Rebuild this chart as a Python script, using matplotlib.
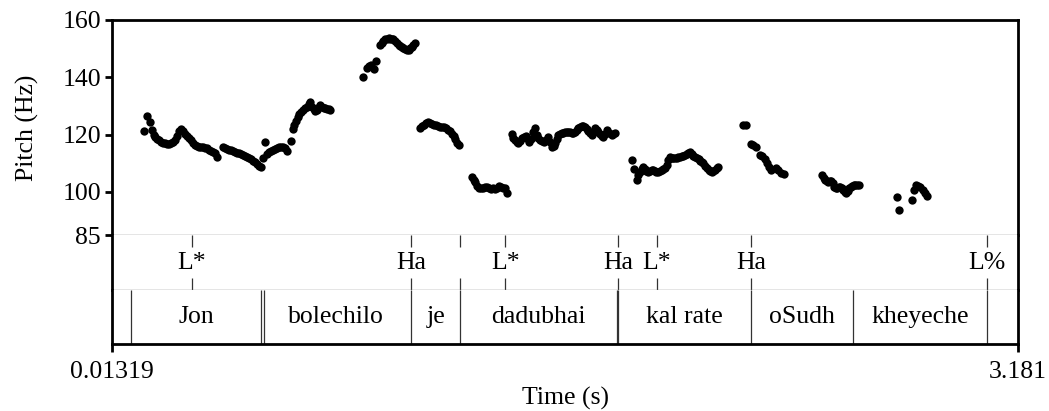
"""Praat-style pitch track with tone and word tiers."""
import matplotlib
import matplotlib.pyplot as plt

matplotlib.use("Agg")

plt.rcParams["font.family"] = ["Liberation Serif", "DejaVu Serif"]

T_START = 0.01319
T_END = 3.181

# pitch points (s, Hz)
times = [
    0.124, 0.135, 0.145, 0.152, 0.159, 0.164, 0.171, 0.178, 0.185, 0.192,
    0.199, 0.206, 0.213, 0.220, 0.227, 0.234, 0.241, 0.248, 0.254, 0.261,
    0.268, 0.275, 0.282, 0.289, 0.296, 0.303, 0.310, 0.317, 0.324, 0.331,
    0.338, 0.345, 0.352, 0.359, 0.366, 0.373, 0.381, 0.400, 0.407, 0.414,
    0.421, 0.428, 0.435, 0.442, 0.449, 0.456, 0.463, 0.470, 0.477, 0.484,
    0.491, 0.498, 0.505, 0.512, 0.519, 0.526, 0.533, 0.541, 0.548, 0.554,
    0.561, 0.568, 0.575, 0.582, 0.589, 0.596, 0.603, 0.610, 0.617, 0.624,
    0.638, 0.645, 0.650, 0.656, 0.662, 0.668, 0.674, 0.681, 0.688, 0.695,
    0.701, 0.706, 0.712, 0.718, 0.724, 0.730, 0.736, 0.741, 0.747, 0.753,
    0.759, 0.765, 0.771, 0.777,
    0.892, 0.904, 0.912, 0.918, 0.929, 0.935, 0.950, 0.956, 0.962, 0.968,
    0.974, 0.980, 0.986, 0.992, 0.997, 1.003, 1.009, 1.015, 1.021, 1.026,
    1.032, 1.038, 1.044, 1.050, 1.055, 1.061, 1.067, 1.073,
    1.090, 1.097, 1.104, 1.111, 1.118, 1.125, 1.132, 1.139, 1.146, 1.153,
    1.160, 1.167, 1.174, 1.181, 1.188, 1.195, 1.202, 1.208, 1.213, 1.220,
    1.228,
    1.271, 1.278, 1.283, 1.290, 1.297, 1.304, 1.311, 1.317, 1.324, 1.331,
    1.338, 1.345, 1.352, 1.359, 1.366, 1.373, 1.380, 1.387, 1.394,
    1.411, 1.416, 1.422, 1.428, 1.434, 1.440, 1.446, 1.453, 1.461, 1.467,
    1.472, 1.478, 1.485, 1.492, 1.498, 1.504, 1.510, 1.517, 1.523, 1.530,
    1.539, 1.545, 1.551, 1.557, 1.562, 1.568, 1.574, 1.580, 1.586, 1.591,
    1.597, 1.603, 1.609, 1.615, 1.620, 1.626, 1.632, 1.638, 1.644, 1.650,
    1.656, 1.661, 1.667, 1.673, 1.679, 1.685, 1.690, 1.696, 1.702, 1.708,
    1.714, 1.720, 1.726, 1.731, 1.737, 1.745, 1.752, 1.760, 1.766, 1.772,
    1.830, 1.840, 1.848, 1.853, 1.859, 1.865, 1.871, 1.877, 1.882, 1.888,
    1.894, 1.900, 1.906, 1.912, 1.917, 1.923, 1.929, 1.935, 1.941, 1.947,
    1.953, 1.958, 1.964, 1.970, 1.976, 1.982, 1.988, 1.993, 1.999, 2.005,
    2.011, 2.017, 2.023, 2.028, 2.034, 2.040, 2.046, 2.052, 2.058, 2.064,
    2.070, 2.076, 2.081, 2.087, 2.093, 2.099, 2.105, 2.110, 2.116, 2.122,
    2.128, 2.133,
    2.220, 2.230, 2.248, 2.255, 2.265, 2.280, 2.286, 2.296, 2.305, 2.312,
    2.318, 2.335, 2.342, 2.352, 2.362,
    2.496, 2.502, 2.506, 2.512, 2.517, 2.522, 2.527, 2.533, 2.538, 2.543,
    2.548, 2.554, 2.559, 2.564, 2.569, 2.575, 2.580, 2.585, 2.590, 2.596,
    2.601, 2.606, 2.611, 2.617, 2.624,
    2.757, 2.766, 2.809, 2.818, 2.825, 2.832, 2.840, 2.848, 2.855, 2.862,
]
pitch = [
    121.4, 126.5, 124.5, 121.6, 120.0, 119.3, 118.5, 118.0, 117.5, 117.2,
    117.0, 116.8, 116.7, 117.0, 117.6, 118.1, 119.5, 121.3, 121.9, 121.4,
    120.3, 119.5, 118.8, 118.0, 117.2, 116.5, 116.0, 115.8, 115.7, 115.6,
    115.4, 115.2, 114.8, 114.4, 114.0, 113.5, 112.3, 115.8, 115.5, 114.9,
    114.6, 114.5, 114.3, 114.0, 113.7, 113.5, 113.3, 113.0, 112.7, 112.3,
    111.8, 111.4, 110.9, 110.3, 109.7, 109.1, 108.6, 111.8, 117.3, 113.2,
    113.9, 114.3, 114.6, 115.0, 115.4, 115.6, 115.8, 115.6, 115.2, 114.2,
    117.9, 122.0, 123.4, 124.8, 126.0, 127.2, 128.0, 128.6, 129.2, 129.8,
    130.6, 131.5, 129.8, 129.0, 128.3, 128.5, 129.5, 130.3, 129.8, 129.4,
    129.2, 129.0, 128.8, 128.6,
    140.2, 143.1, 144.0, 144.3, 142.8, 145.6, 151.3, 152.0, 152.8, 153.2,
    153.4, 153.6, 153.5, 153.3, 153.2, 152.6, 151.9, 151.3, 150.9, 150.5,
    150.2, 149.8, 149.5, 149.7, 150.2, 150.7, 151.3, 151.9,
    122.2, 123.0, 123.5, 124.0, 124.3, 124.0, 123.8, 123.5, 123.2, 123.0,
    122.8, 122.8, 122.8, 122.2, 121.8, 121.4, 120.4, 119.5, 118.5, 117.0,
    116.4,
    105.3, 104.2, 103.4, 102.0, 101.5, 101.3, 101.5, 101.8, 101.6, 101.3,
    101.2, 101.3, 100.9, 101.4, 102.0, 101.8, 101.5, 101.4, 99.5,
    120.2, 119.0, 118.1, 117.4, 117.0, 117.8, 118.7, 119.3, 119.5, 118.5,
    117.5, 118.5, 121.0, 122.2, 119.9, 119.0, 118.1, 117.8, 117.5, 118.2,
    119.3, 117.5, 115.8, 116.2, 117.0, 118.5, 119.9, 120.3, 120.5, 120.5,
    120.8, 121.0, 121.1, 120.8, 120.5, 120.5, 121.0, 121.6, 122.2, 122.6,
    122.9, 123.0, 122.5, 121.9, 121.4, 120.5, 119.9, 121.0, 122.2, 121.5,
    120.8, 120.2, 119.6, 119.3, 120.3, 121.6, 120.6, 119.9, 120.2, 120.5,
    111.2, 107.9, 104.2, 106.0, 107.1, 108.0, 108.8, 108.0, 107.4, 107.1,
    107.4, 107.6, 107.7, 107.4, 107.1, 107.1, 107.4, 107.7, 107.9, 108.5,
    109.4, 111.0, 112.3, 112.0, 111.9, 111.8, 112.0, 112.2, 112.3, 112.5,
    112.7, 112.9, 113.2, 113.6, 114.1, 113.2, 112.7, 112.3, 111.8, 111.4,
    110.8, 110.3, 110.0, 109.0, 108.3, 107.6, 107.2, 107.1, 107.3, 107.6,
    108.2, 108.8,
    123.3, 123.4, 116.8, 116.4, 115.8, 113.0, 112.4, 111.4, 110.0, 108.8,
    107.7, 108.3, 107.6, 106.5, 106.3,
    105.9, 105.0, 104.2, 103.8, 103.6, 103.8, 104.0, 103.0, 101.8, 101.5,
    101.3, 101.6, 101.8, 101.3, 100.7, 100.0, 99.5, 100.5, 101.3, 101.8,
    102.2, 102.4, 102.4, 102.4, 102.4,
    98.4, 93.7, 97.2, 100.7, 102.4, 102.0, 101.6, 100.8, 99.8, 98.6,
]

# tone tier (point tier)
tone_times = [0.292, 1.060, 1.231, 1.389, 1.784, 1.918, 2.248, 3.071]
tone_labels = ["L*", "Ha", "", "L*", "Ha", "L*", "Ha", "L%"]

# word tier (interval tier)
word_bounds = [0.0813, 0.535, 0.543, 1.060, 1.231, 1.778, 1.784, 2.248, 2.605, 3.071]
word_mids = [0.308, 0.797, 1.145, 1.505, 2.016, 2.426, 2.838]
word_labels = ["Jon", "bolechilo", "je", "dadubhai", "kal rate", "oSudh", "kheyeche"]

W, H = 1049, 411
FS = 18.5
FRAME_LW = 2.0
GRID = "#7f7f7f"

fig = plt.figure(figsize=(W / 100, H / 100), dpi=100)
left, right = 112 / W, 1018 / W
width = right - left


def px_axes(top, bottom):
    return fig.add_axes([left, 1 - bottom / H, width, (bottom - top) / H])


ax = px_axes(20, 235)
ax_tone = px_axes(235, 290)
ax_word = px_axes(290, 344)

for a in (ax, ax_tone, ax_word):
    a.set_xlim(T_START, T_END)
    for side in ("left", "right"):
        a.spines[side].set_linewidth(FRAME_LW)
        a.spines[side].set_color("black")

# pitch panel
ax.plot(times, pitch, "o", color="black", markersize=6.0, markeredgewidth=0)
ax.set_ylim(85, 160)
ax.set_yticks([85, 100, 120, 140, 160])
ax.tick_params(axis="y", length=5, width=FRAME_LW, labelsize=FS, pad=3)
ax.set_xticks([])
ax.spines["top"].set_linewidth(FRAME_LW)
ax.spines["bottom"].set_linewidth(1.0)
ax.spines["bottom"].set_color(GRID)
ax.set_ylabel("Pitch (Hz)", fontsize=FS, labelpad=17)

# tone tier
ax_tone.set_ylim(0, 1)
ax_tone.set_xticks([])
ax_tone.set_yticks([])
ax_tone.spines["top"].set_visible(False)
ax_tone.spines["bottom"].set_linewidth(1.0)
ax_tone.spines["bottom"].set_color(GRID)
for t, lab in zip(tone_times, tone_labels):
    ax_tone.vlines(t, 0.78, 1.0, color="#333333", linewidth=0.9)
    ax_tone.vlines(t, 0.0, 0.22, color="#333333", linewidth=0.9)
    ax_tone.text(t, 0.5, lab, ha="center", va="center", fontsize=FS)

# word tier
ax_word.set_ylim(0, 1)
ax_word.set_yticks([])
ax_word.spines["top"].set_visible(False)
ax_word.spines["bottom"].set_linewidth(FRAME_LW)
ax_word.vlines(word_bounds, 0, 1, color="#333333", linewidth=0.9)
for t, lab in zip(word_mids, word_labels):
    ax_word.text(t, 0.5, lab, ha="center", va="center", fontsize=FS)
ax_word.set_xticks([T_START, T_END])
ax_word.set_xticklabels(["0.01319", "3.181"])
ax_word.tick_params(axis="x", length=6, width=FRAME_LW, labelsize=FS, pad=6)
ax_word.set_xlabel("Time (s)", fontsize=FS, labelpad=3)

fig.savefig("out.png", dpi=100, facecolor="white")
